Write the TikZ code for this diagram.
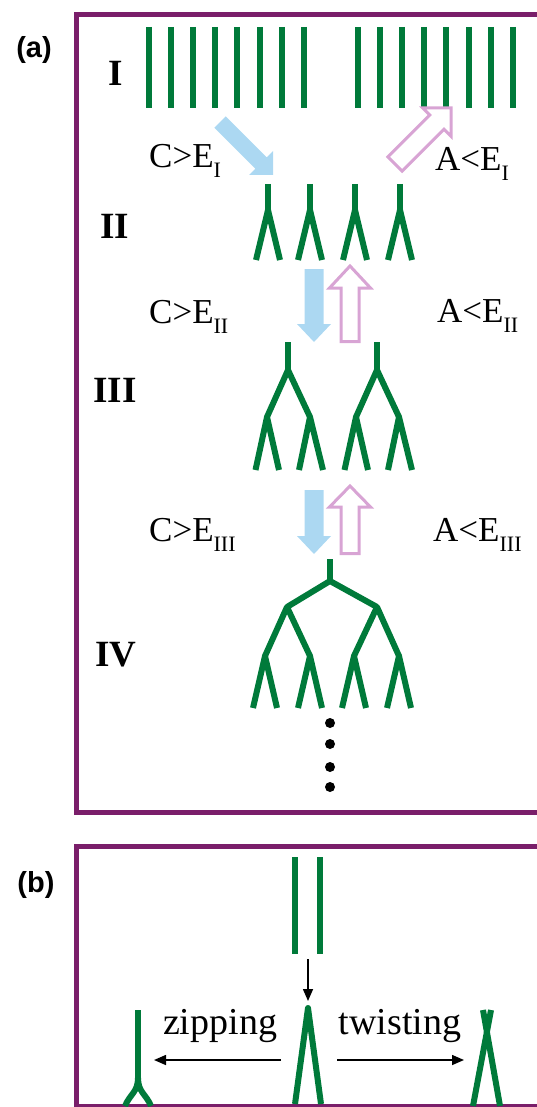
\documentclass[tikz,border=0pt]{standalone}
\usepackage{fontspec}
\setmainfont{Liberation Serif}
\newfontfamily\labfont{Liberation Sans}
\usetikzlibrary{arrows.meta}
\definecolor{boxpurple}{RGB}{122,30,106}
\definecolor{dnagreen}{RGB}{0,122,58}
\definecolor{arrowblue}{RGB}{172,216,242}
\definecolor{arrowpink}{RGB}{216,164,212}
\newcommand{\mysub}[1]{\raisebox{-10pt}{\fontsize{22}{22}\selectfont #1}}
\begin{document}
\begin{tikzpicture}[x=1pt,y=-1pt,
  frame/.style={draw=boxpurple,line width=5pt},
  strand/.style={draw=dnagreen,line width=6pt,line join=round},
  bluearrow/.style={fill=arrowblue},
  pinkarrow/.style={draw=arrowpink,line width=3pt,fill=white,line join=miter},
  txt/.style={inner sep=0pt,anchor=base west,font=\fontsize{35}{35}\selectfont},
  stagelab/.style={inner sep=0pt,anchor=base,font=\fontsize{37}{37}\selectfont\bfseries},
  panellab/.style={inner sep=0pt,font=\labfont\fontsize{29}{29}\selectfont\bfseries},
  wordlab/.style={inner sep=0pt,anchor=base,font=\fontsize{38}{38}\selectfont},
  blackarrow/.style={draw=black,line width=1.5pt,-{Triangle[length=12pt,width=10pt]}}
]
\useasboundingbox (0,0) rectangle (537,1107);
\clip (0,0) rectangle (537,1107);
% frames
\draw[frame] (76,14.7) rectangle (600,812);
\draw[frame] (76,846) rectangle (600,1106);
% panel labels
\node[panellab] (la) at (34,50) {(a)};
\node[panellab] (lb) at (36,885) {(b)};
% stage labels
\node[stagelab] (s1) at (116,86) {I};
\node[stagelab] (s2) at (115,238) {II};
\node[stagelab] (s3) at (115,402) {III};
\node[stagelab] (s4) at (116,666) {IV};
% condition labels
\node[txt] (c1) at (149,168) {C>E\mysub{I}};
\node[txt] (a1) at (435,171) {A<E\mysub{I}};
\node[txt] (c2) at (149,323) {C>E\mysub{II}};
\node[txt] (a2) at (437,322) {A<E\mysub{II}};
\node[txt] (c3) at (149,541) {C>E\mysub{III}};
\node[txt] (a3) at (433,541) {A<E\mysub{III}};
% stage I strands
\foreach \i in {0,...,7} {
  \draw[strand] (149+\i*22.1,27) -- ++(0,81);
  \draw[strand] (358+\i*22.1,27) -- ++(0,81);
}
% stage I arrows
\path[bluearrow] (225.7,116.3) -- (266.7,157.3) -- (273,151) -- (273,175) -- (249,175) -- (255.3,168.7) -- (214.3,127.7) -- cycle;
\draw[pinkarrow] (402.1,171.1) -- (444.0,129.2) -- (451,136.2) -- (451,108) -- (422.8,108) -- (429.8,115.0) -- (387.9,156.9) -- cycle;
% stage II forks
\foreach \x in {268,310,355,400} {
  \draw[strand] (\x,184) -- (\x,210);
  \draw[strand] (\x-12,260) -- (\x,210) -- (\x+12,260);
}
% stage II->III arrows
\path[bluearrow] (304.5,269) -- (304.5,324) -- (297,324) -- (314,342) -- (331,324) -- (323.5,324) -- (323.5,269) -- cycle;
\draw[pinkarrow] (341,341.5) -- (341,288) -- (329.5,288) -- (350,266) -- (370.5,288) -- (359,288) -- (359,341.5) -- cycle;
% stage III trees
\foreach \x in {288,377} {
  \draw[strand] (\x,342) -- (\x,370);
  \draw[strand] (\x-21,417) -- (\x,370) -- (\x+22,417);
  \draw[strand] (\x-32.5,470) -- (\x-21,417) -- (\x-9,470);
  \draw[strand] (\x+11,470) -- (\x+22,417) -- (\x+35,470);
}
% stage III->IV arrows
\path[bluearrow] (304.5,490) -- (304.5,536) -- (297,536) -- (314,554) -- (331,536) -- (323.5,536) -- (323.5,490) -- cycle;
\draw[pinkarrow] (341,553.5) -- (341,507) -- (329.5,507) -- (350,486) -- (370.5,507) -- (359,507) -- (359,553.5) -- cycle;
% stage IV tree
\draw[strand] (330,559) -- (330,581);
\draw[strand] (287,607) -- (330,581) -- (377,607);
\draw[strand] (265,656) -- (287,607) -- (310,656);
\draw[strand] (354,656) -- (377,607) -- (399,656);
\foreach \x in {265,310,354,399} {
  \draw[strand] (\x-12,708) -- (\x,656) -- (\x+12,708);
}
% dots
\foreach \y in {723,744,767,787} \fill (330,\y) circle (5);
% panel (b)
\draw[strand] (295,857) -- (295,954);
\draw[strand] (320,857) -- (320,954);
\coordinate (vtop) at (308,959);
\coordinate (vbot) at (308,1001);
\draw[blackarrow] (vtop) -- (vbot);
\draw[strand] (295,1104) -- (308,1008) -- (321,1104);
% zipped
\draw[strand] (138,1010) -- (138,1082);
\draw[strand] (138,1078) .. controls (138,1092) and (130,1094) .. (125,1106);
\draw[strand] (138,1078) .. controls (138,1092) and (146,1094) .. (151,1106);
% twisted
\draw[strand] (473,1106) -- (491,1010);
\draw[strand] (500,1106) -- (483,1010);
% arrows and words
\coordinate (lstart) at (281,1060);
\coordinate (lend) at (154,1060);
\coordinate (rstart) at (337,1060);
\coordinate (rend) at (464,1060);
\draw[blackarrow] (lstart) -- (lend);
\draw[blackarrow] (rstart) -- (rend);
\node[wordlab] (zip) at (220,1034) {zipping};
\node[wordlab] (twi) at (400,1034) {twisting};
\end{tikzpicture}
\end{document}
